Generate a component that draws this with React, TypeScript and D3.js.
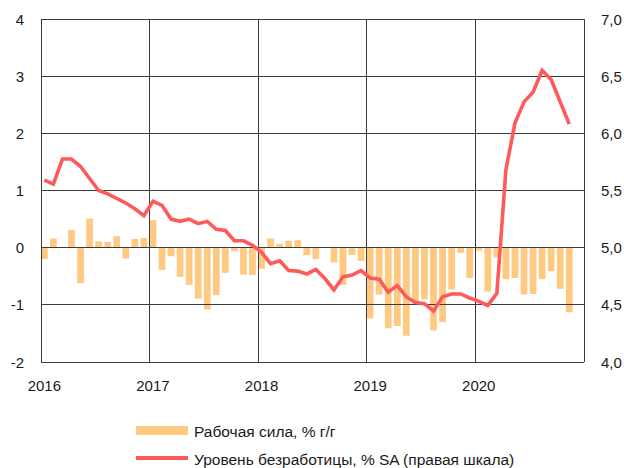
import { scaleBand, scaleLinear, line, range, formatLocale } from "d3";

// monthly values, Jan 2016 .. Nov 2020
const laborForce2016 = [-0.2, 0.16, 0, 0.31, -0.62, 0.51, 0.11, 0.1, 0.2, -0.19, 0.15, 0.17];
const laborForce2017 = [0.48, -0.39, -0.15, -0.51, -0.65, -0.89, -1.08, -0.83, -0.44, -0.06, -0.47, -0.48];
const laborForce2018 = [-0.37, 0.16, 0.07, 0.12, 0.13, -0.13, -0.2, 0, -0.26, -0.65, -0.13, -0.23];
const laborForce2019 = [-1.24, -0.82, -1.41, -1.37, -1.54, -1.0, -0.9, -1.45, -1.3, -0.73, -0.09, -0.53];
const laborForce2020 = [-0.05, -0.77, -0.17, -0.55, -0.53, -0.82, -0.81, -0.55, -0.41, -0.72, -1.13];

const unemployment2016 = [5.59, 5.556, 5.775, 5.775, 5.71, 5.605, 5.5, 5.47, 5.43, 5.39, 5.34, 5.28];
const unemployment2017 = [5.405, 5.37, 5.25, 5.23, 5.25, 5.21, 5.23, 5.16, 5.15, 5.06, 5.06, 5.02];
const unemployment2018 = [4.96, 4.86, 4.885, 4.8, 4.795, 4.77, 4.81, 4.73, 4.63, 4.745, 4.76, 4.8];
const unemployment2019 = [4.735, 4.725, 4.61, 4.67, 4.57, 4.52, 4.51, 4.445, 4.57, 4.595, 4.595, 4.56];
const unemployment2020 = [4.53, 4.495, 4.6, 5.68, 6.09, 6.275, 6.36, 6.55, 6.47, 6.275, 6.08];

const years = ["2016", "2017", "2018", "2019", "2020"];
const leftTicks = [-2, -1, 0, 1, 2, 3, 4];
const rightTicks = [4, 4.5, 5, 5.5, 6, 6.5, 7];

const legendBars = "Рабочая сила, % г/г";
const legendLine = "Уровень безработицы, % SA (правая шкала)";

const laborForce = [
  ...laborForce2016,
  ...laborForce2017,
  ...laborForce2018,
  ...laborForce2019,
  ...laborForce2020,
];
const unemployment = [
  ...unemployment2016,
  ...unemployment2017,
  ...unemployment2018,
  ...unemployment2019,
  ...unemployment2020,
];

const ru = formatLocale({ decimal: ",", thousands: " ", grouping: [3], currency: ["", " ₽"] });
const fmtRight = ru.format(".1f");

const BAR = "#FFC982";
const RED = "#FF5A5A";
const GRID = "#3c3c3c";
const FONT = "'Liberation Sans', Arial, sans-serif";

export default function App() {
  const left = 41;
  const right = 584;
  const top = 19;
  const bottom = 362;

  const nMonths = years.length * 12;
  const x = scaleBand<number>()
    .domain(range(nMonths))
    .range([left, right])
    .paddingInner(0.26)
    .paddingOuter(0.13)
    .align(0);
  const step = x.step();
  const bw = x.bandwidth();
  const monthX = (i: number) => left + i * step;

  const yL = scaleLinear().domain([-2, 4]).range([bottom, top]);
  const yR = scaleLinear().domain([4, 7]).range([bottom, top]);

  const path = line<number>()
    .x((_, i) => (x(i) as number) + bw / 2)
    .y((d) => yR(d))(unemployment);

  return (
    <svg
      width={624}
      height={468}
      style={{ position: "absolute", left: 0, top: 0, background: "#fff" }}
      fontFamily={FONT}
    >
      {/* bars */}
      {laborForce.map((v, i) => (
        <rect
          key={i}
          x={x(i)}
          width={bw}
          y={Math.min(yL(v), yL(0))}
          height={Math.abs(yL(v) - yL(0))}
          fill={BAR}
        />
      ))}

      {/* grid */}
      <g stroke={GRID} strokeWidth={1} shapeRendering="crispEdges">
        {leftTicks.map((t) => (
          <line key={t} x1={left} x2={right} y1={yL(t)} y2={yL(t)} />
        ))}
        {range(years.length + 1).map((k) => {
          const xx = k === years.length ? right : monthX(k * 12);
          return <line key={k} x1={xx} x2={xx} y1={top} y2={bottom} />;
        })}
      </g>

      <path d={path ?? ""} fill="none" stroke={RED} strokeWidth={3.6} strokeLinejoin="miter" />

      {/* left axis */}
      {leftTicks.map((t) => (
        <text key={t} x={24} y={yL(t)} textAnchor="end" dominantBaseline="central" fontSize={15} fill="#1a1a1a">
          {t}
        </text>
      ))}
      {/* right axis */}
      {rightTicks.map((t) => (
        <text key={t} x={601} y={yR(t)} textAnchor="start" dominantBaseline="central" fontSize={15} fill="#1a1a1a">
          {fmtRight(t)}
        </text>
      ))}
      {/* x axis */}
      {years.map((yr, k) => (
        <text
          key={yr}
          x={(x(k * 12) as number) + bw / 2}
          y={385}
          textAnchor="middle"
          dominantBaseline="central"
          fontSize={15}
          fill="#1a1a1a"
        >
          {yr}
        </text>
      ))}

      {/* legend */}
      <rect x={136} y={426} width={52} height={9} fill={BAR} />
      <text x={194} y={431} dominantBaseline="central" fontSize={15.5} fill="#1a1a1a">
        {legendBars}
      </text>
      <line x1={136} x2={188} y1={458} y2={458} stroke={RED} strokeWidth={4} />
      <text x={194} y={459} dominantBaseline="central" fontSize={15.5} fill="#1a1a1a">
        {legendLine}
      </text>
    </svg>
  );
}
